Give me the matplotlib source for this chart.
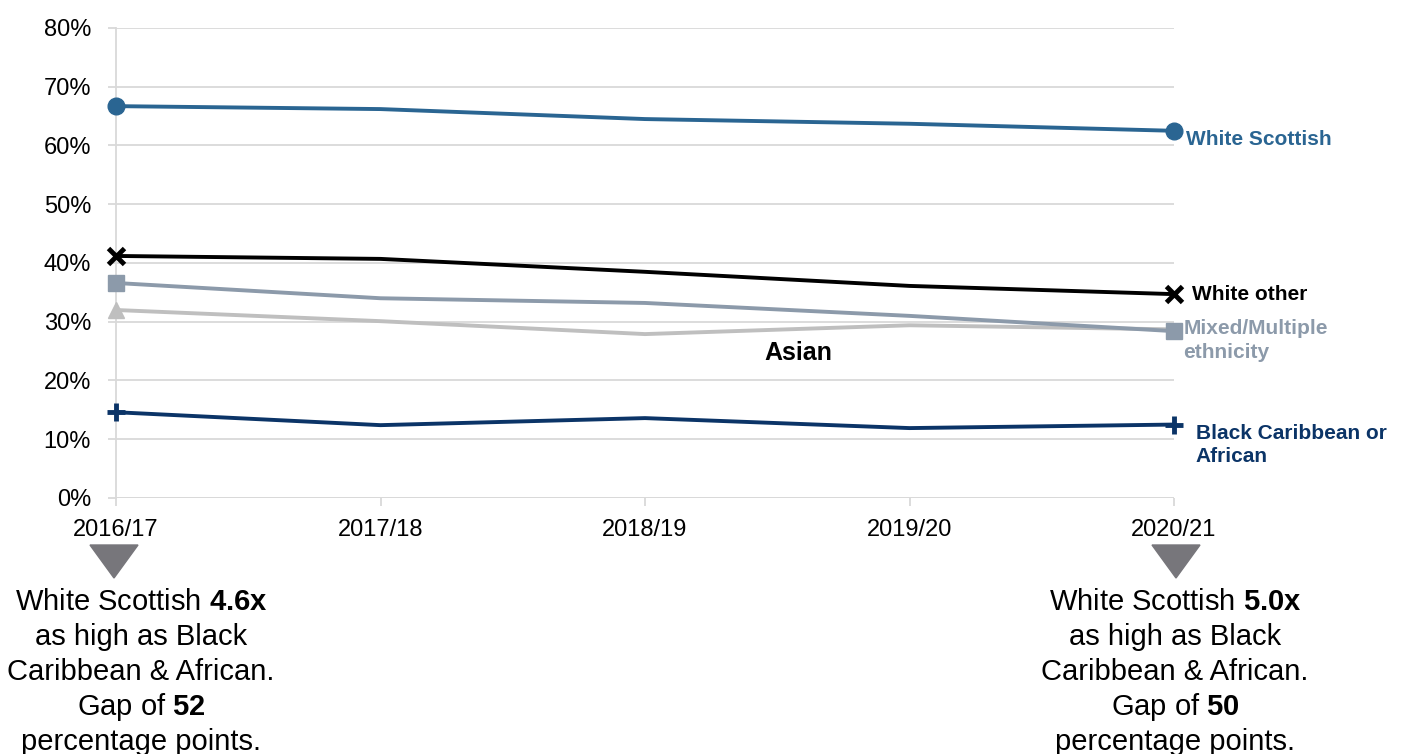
import matplotlib
matplotlib.use("Agg")
import matplotlib.pyplot as plt
from matplotlib.ticker import FuncFormatter

plt.rcParams['font.family'] = ['Liberation Sans', 'DejaVu Sans']
plt.rcParams['mathtext.fontset'] = 'custom'
plt.rcParams['mathtext.rm'] = 'Liberation Sans'
plt.rcParams['mathtext.bf'] = 'Liberation Sans:bold'

years = ["2016/17", "2017/18", "2018/19", "2019/20", "2020/21"]
white_scottish = [66.7, 66.2, 64.5, 63.7, 62.5]
white_other = [41.2, 40.7, 38.5, 36.1, 34.7]
mixed = [36.6, 34.0, 33.2, 31.0, 28.4]
asian = [32.0, 30.1, 27.9, 29.4, 28.7]
black = [14.6, 12.4, 13.6, 11.9, 12.5]
y_ticks = [0, 10, 20, 30, 40, 50, 60, 70, 80]

fig = plt.figure(figsize=(14.03, 7.54), dpi=100)
ax = fig.add_axes([116/1403, 1-498/754, (1174-116)/1403, (498-28)/754])

x = list(range(len(years)))
grid_c = '#D9D9D9'
ax.set_xlim(0, len(years)-1)
ax.set_ylim(0, 80)
ax.set_yticks(y_ticks)
ax.yaxis.set_major_formatter(FuncFormatter(lambda v, p: f"{int(v)}%"))
ax.set_xticks(x)
ax.set_xticklabels(years)
ax.grid(axis='y', color=grid_c, linewidth=1.3)
ax.set_axisbelow(True)
for s in ['top', 'right', 'bottom']:
    ax.spines[s].set_visible(False)
ax.spines['left'].set_color(grid_c)
ax.spines['left'].set_linewidth(1.3)
ax.spines['left'].set_zorder(0.5)
ax.tick_params(axis='y', length=6, color=grid_c, width=1.3, labelsize=17, pad=12)
ax.tick_params(axis='x', length=6, color=grid_c, width=1.3, labelsize=17, pad=9)
ax.axhline(0, color=grid_c, lw=1.3, zorder=0.5)

c_ws = '#2A6592'
c_wo = '#000000'
c_mx = '#8C9AAA'
c_as = '#BFBFBF'
c_bl = '#0B3467'

kw = dict(lw=2.8, clip_on=False, zorder=3)
ax.plot(x, asian, color=c_as, marker='^', markersize=11, markevery=[0], **kw)
ax.plot(x, mixed, color=c_mx, marker='s', markersize=11, markevery=[0, 4], **kw)
ax.plot(x, black, color=c_bl, marker='+', markersize=13, mew=3.5, markevery=[0, 4], **kw)
ax.plot(x, white_other, color=c_wo, marker='x', markersize=11, mew=3.5, markevery=[0, 4], **kw)
ax.plot(x, white_scottish, color=c_ws, marker='o', markersize=12, markevery=[0, 4], **kw)

# series labels
tkw = dict(fontsize=15, fontweight='bold', ha='left', va='center', clip_on=False)
ax.text(4 + 0.045, 61.0, "White Scottish", color=c_ws, **tkw)
ax.text(4 + 0.068, 34.7, "White other", color=c_wo, **tkw)
ax.text(4 + 0.035, 26.85, "Mixed/Multiple\nethnicity", color=c_mx, linespacing=1.3, **tkw)
ax.text(4 + 0.083, 9.0, "Black Caribbean or\nAfrican", color=c_bl, linespacing=1.3, **tkw)
ax.text(2.58, 24.6, "Asian", color='black', fontsize=18, fontweight='bold',
        ha='center', va='center')

# annotations below
tri_c = '#77767B'
def px(xp, yp):
    return (xp/1403, 1 - yp/754)

for cx_tri, cx_txt, mult, gap in [(114, 141, "4.6x", "52"), (1176, 1175, "5.0x", "50")]:
    t = plt.Polygon([px(cx_tri-24, 545), px(cx_tri+24, 545), px(cx_tri, 578)],
                    closed=True, color=tri_c, transform=fig.transFigure)
    fig.patches.append(t)
    lines = [f"White Scottish $\\mathbf{{{mult}}}$",
             "as high as Black",
             "Caribbean & African.",
             f"Gap of $\\mathbf{{{gap}}}$",
             "percentage points."]
    ys = [602, 637, 672, 707, 742]
    for ln, yp in zip(lines, ys):
        fig.text(cx_txt/1403, 1 - yp/754, ln, fontsize=21, ha='center', va='center')

fig.savefig("out.png", dpi=100)
